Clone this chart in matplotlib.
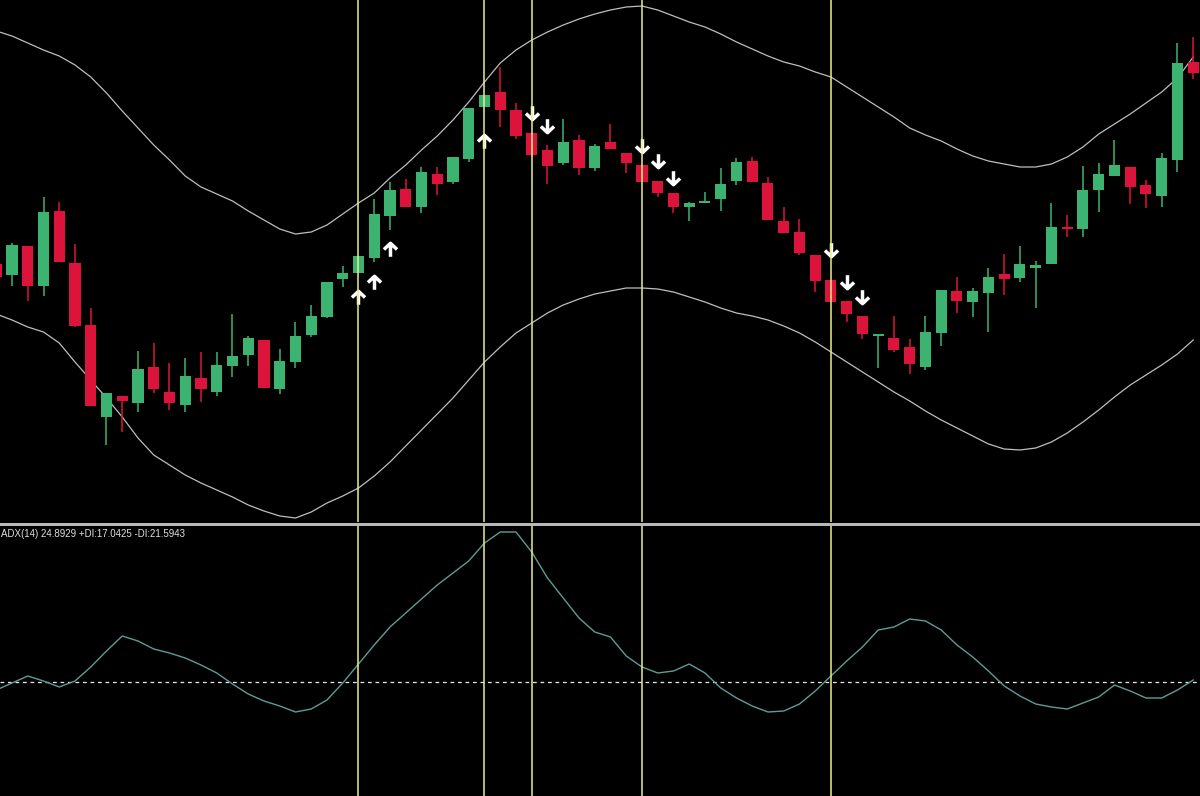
import matplotlib
matplotlib.use("Agg")
import matplotlib.pyplot as plt
from matplotlib.path import Path
from matplotlib.patches import Rectangle
import numpy as np

# ---- data (vertical values measured in chart units; axis is inverted: smaller = higher) ----
opens = [264, 275, 246, 286, 211, 263, 325, 417, 396, 403, 367, 392, 405, 378, 392, 366, 355, 340, 389, 362,
         335, 317, 279, 273, 258, 216, 189, 207, 174, 182, 159, 107, 92, 110, 133, 150, 163, 140, 168, 142,
         153, 165, 181, 193, 207, 203, 199, 181, 161, 183, 221, 232, 255, 280, 301, 316, 336, 338, 347, 367,
         333, 291, 302, 293, 274, 278, 268, 264, 227, 229, 190, 176, 167, 185, 196, 160, 62]
highs = [262, 243, 246, 197, 202, 244, 308, 393, 396, 351, 343, 363, 358, 352, 352, 314, 336, 340, 349, 322,
         305, 282, 266, 256, 199, 182, 179, 167, 167, 157, 108, 95, 67, 103, 133, 145, 119, 135, 144, 124,
         153, 165, 181, 193, 202, 192, 168, 158, 157, 177, 207, 219, 255, 280, 301, 316, 334, 316, 339, 316,
         290, 277, 288, 268, 254, 246, 261, 203, 215, 166, 163, 140, 167, 180, 153, 43, 37]
lows = [280, 286, 301, 296, 262, 327, 406, 445, 432, 412, 393, 410, 412, 402, 396, 377, 366, 388, 394, 368,
        337, 318, 287, 273, 262, 230, 207, 213, 195, 184, 162, 107, 127, 139, 156, 184, 165, 175, 171, 149,
        173, 182, 197, 213, 221, 203, 211, 185, 182, 220, 233, 255, 292, 302, 322, 339, 368, 352, 374, 370,
        346, 313, 317, 332, 295, 282, 308, 264, 237, 237, 212, 176, 204, 208, 207, 172, 79]
closes = [277, 245, 286, 212, 262, 326, 406, 393, 401, 369, 389, 403, 376, 389, 365, 356, 338, 388, 361, 336,
          316, 282, 273, 256, 214, 190, 207, 172, 184, 157, 108, 95, 110, 136, 155, 166, 142, 168, 146, 149,
          163, 182, 193, 207, 203, 201, 184, 162, 182, 220, 233, 253, 281, 302, 314, 334, 334, 350, 364, 332,
          290, 301, 291, 277, 279, 264, 265, 227, 229, 190, 174, 165, 187, 194, 158, 63, 73]

upper_band = [31, 36, 43, 50, 56, 65, 77, 93, 111, 128, 145, 160, 176, 187, 194, 201, 211, 220, 229, 234,
              232, 225, 214, 203, 193, 178, 165, 150, 136, 120, 102, 82, 63, 50, 40, 32, 25, 19, 14, 10,
              7, 6, 10, 16, 22, 27, 34, 42, 49, 56, 62, 66, 72, 77, 87, 97, 107, 117, 128, 135,
              141, 149, 156, 161, 164, 167, 167, 164, 157, 147, 134, 124, 114, 103, 92, 78, 57]
lower_band = [314, 320, 327, 332, 343, 362, 380, 398, 417, 438, 455, 465, 475, 483, 490, 497, 505, 511, 516, 518,
              512, 503, 496, 488, 476, 462, 446, 430, 414, 398, 380, 362, 347, 333, 323, 313, 305, 299, 294, 291,
              288, 288, 289, 292, 297, 302, 308, 313, 316, 320, 326, 333, 342, 352, 362, 372, 382, 392, 401, 411,
              420, 428, 436, 444, 449, 450, 448, 442, 433, 422, 410, 397, 385, 375, 365, 354, 340]

adx = [690, 683, 676, 681, 687, 681, 667, 651, 636, 641, 649, 653, 658, 665, 673, 684, 694, 701, 706, 712,
       709, 700, 683, 664, 645, 627, 613, 599, 585, 573, 561, 543, 532, 532, 552, 578, 598, 618, 632, 637,
       656, 667, 673, 671, 664, 673, 688, 698, 706, 712, 711, 704, 691, 676, 661, 647, 630, 627, 619, 621,
       630, 645, 657, 671, 686, 696, 704, 707, 709, 703, 697, 685, 691, 698, 698, 690, 680]
adx_level = 682

signal_bars = [23, 31, 34, 41, 53]
up_arrow_bars = [23, 24, 25, 31]
up_arrow_vals = [297, 282, 249, 141]
down_arrow_bars = [34, 35, 41, 42, 43, 53, 54, 55]
down_arrow_vals = [113, 126, 146, 161, 178, 250, 282, 297]

adx_label = "ADX(14) 24.8929 +DI:17.0425 -DI:21.5943"

# ---- styling ----
BG = "black"
GREEN = "#3cb371"
RED = "#dc143c"
BAND = "#bebebe"
VLINE = "#eeee8a"
ADXC = "#5e9c94"

W, H = 1200, 796
fig = plt.figure(figsize=(W / 100, H / 100), dpi=100, facecolor=BG)

top_px, sep_px = 522, 526
ax = fig.add_axes([0, (H - top_px) / H, 1, top_px / H], facecolor=BG)
ax2 = fig.add_axes([0, 0, 1, (H - sep_px) / H], facecolor=BG)

x = np.arange(len(opens))
xlim = (0.238, 76.43)

o = np.array(opens); c = np.array(closes); hi = np.array(highs); lo = np.array(lows)
bull = c < o  # smaller value = higher on screen
cols = np.where(bull, GREEN, RED)

ax.vlines(x, hi, lo, colors=cols, linewidth=1.1, zorder=2)
ax.bar(x, np.abs(o - c), bottom=np.minimum(o, c), width=0.7, color=cols, edgecolor='none',
       zorder=3)

ax.plot(x, upper_band, color=BAND, linewidth=0.9, zorder=1)
ax.plot(x, lower_band, color=BAND, linewidth=0.9, zorder=1)

up_path = Path([(0, -1), (0, 0.85), (-0.9, 0.0), (0, 0.85), (0.9, 0.0)],
               [Path.MOVETO, Path.LINETO, Path.MOVETO, Path.LINETO, Path.LINETO])
down_path = Path([(0, 1), (0, -0.85), (-0.9, 0.0), (0, -0.85), (0.9, 0.0)],
                 [Path.MOVETO, Path.LINETO, Path.MOVETO, Path.LINETO, Path.LINETO])
ax.plot(up_arrow_bars, up_arrow_vals, linestyle='none', marker=up_path, markersize=10.5,
        markerfacecolor='none', markeredgecolor='white', markeredgewidth=2.5, zorder=4)
ax.plot(down_arrow_bars, down_arrow_vals, linestyle='none', marker=down_path, markersize=10.5,
        markerfacecolor='none', markeredgecolor='white', markeredgewidth=2.5, zorder=4)

ax.set_xlim(*xlim)
ax.set_ylim(top_px, 0)

ax2.plot(x, adx, color=ADXC, linewidth=1.0, zorder=2)
ax2.axhline(adx_level, color="#e8e8e8", linewidth=0.9, linestyle=(0, (3, 3)), zorder=1)
ax2.set_xlim(*xlim)
ax2.set_ylim(H, sep_px)

for a in (ax, ax2):
    for b in signal_bars:
        a.axvline(b, color=VLINE, linewidth=1.1, zorder=5)
    a.set_xticks([]); a.set_yticks([])
    for s in a.spines.values():
        s.set_visible(False)

fig.add_artist(Rectangle((0, (H - 525.5) / H), 1, 3 / H, transform=fig.transFigure,
                         facecolor="#b8b8b8", edgecolor='none', zorder=10))

fig.text(1 / W, 1 - 529 / H, adx_label, color="#e0e0e0", fontsize=7, va='top', ha='left',
         family=["Liberation Sans", "DejaVu Sans"])

fig.savefig("out.png", dpi=100, facecolor=BG)
